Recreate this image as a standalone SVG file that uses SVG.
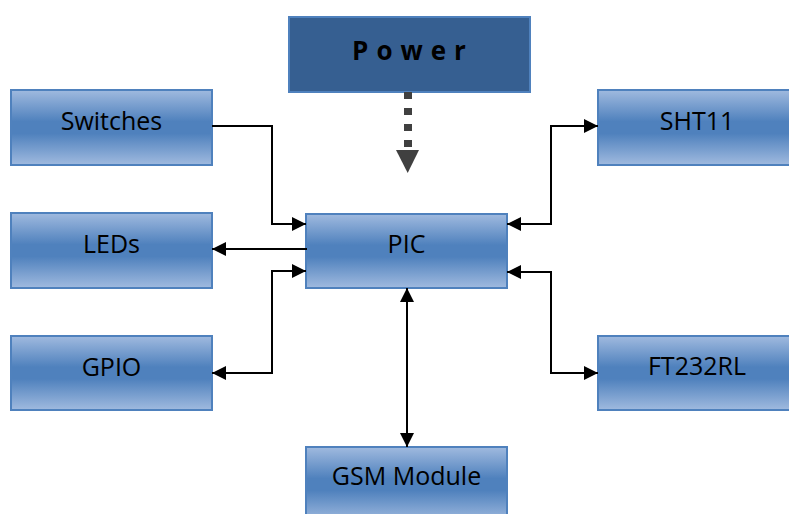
<svg xmlns="http://www.w3.org/2000/svg" width="789" height="514" viewBox="0 0 789 514">
<defs>
<linearGradient id="g" x1="0" y1="0" x2="0" y2="1">
<stop offset="0" stop-color="#a0badf"/>
<stop offset="0.42" stop-color="#4f81bd"/>
<stop offset="0.58" stop-color="#4f81bd"/>
<stop offset="1" stop-color="#a0badf"/>
</linearGradient>
<marker id="ah" viewBox="0 0 14 14" refX="14" refY="7" markerWidth="14" markerHeight="14" markerUnits="userSpaceOnUse" orient="auto-start-reverse">
<path d="M0,0 L14,7 L0,14 z" fill="#000"/>
</marker>
</defs>
<style>
.box{fill:url(#g);stroke:#4f81bd;stroke-width:2}
.lbl{font-family:"Open Sans","Liberation Sans",sans-serif;font-size:25px;fill:#000;text-anchor:middle}
.c{fill:none;stroke:#000;stroke-width:2}
</style>
<rect width="789" height="514" fill="#fff"/>
<g id="power">
<rect x="289" y="17" width="241" height="75" fill="#365f91" stroke="#4f81bd" stroke-width="2"/>
<text x="413" y="59.5" font-family="'Open Sans','Liberation Sans',sans-serif" font-size="26" font-weight="bold" letter-spacing="8" text-anchor="middle" fill="#000">Power</text>
</g>
<g id="switches"><rect class="box" x="11" y="90" width="201" height="75"/><text class="lbl" x="111.5" y="130">Switches</text></g>
<g id="leds"><rect class="box" x="11" y="213" width="201" height="75"/><text class="lbl" x="111.5" y="253">LEDs</text></g>
<g id="gpio"><rect class="box" x="11" y="336" width="201" height="74"/><text class="lbl" x="111.5" y="376">GPIO</text></g>
<g id="pic"><rect class="box" x="306" y="214" width="201" height="74"/><text class="lbl" x="406.5" y="253">PIC</text></g>
<g id="sht11"><rect class="box" x="598" y="90" width="200" height="75"/><text class="lbl" x="697" y="130">SHT11</text></g>
<g id="ft232rl"><rect class="box" x="598" y="336" width="200" height="74"/><text class="lbl" x="697" y="375">FT232RL</text></g>
<g id="gsm"><rect class="box" x="306" y="447" width="201" height="75"/><text class="lbl" x="406.5" y="485">GSM Module</text></g>
<g id="connectors">
<line x1="408" y1="92" x2="408" y2="147" stroke="#404040" stroke-width="8" stroke-dasharray="7 9"/>
<polygon points="396,150 419,150 407.7,173" fill="#404040"/>
<polyline class="c" points="212,126 272,126 272,224 306,224" marker-end="url(#ah)"/>
<line class="c" x1="307" y1="249" x2="212" y2="249" marker-end="url(#ah)"/>
<polyline class="c" points="306,271 272,271 272,373 212,373" marker-start="url(#ah)" marker-end="url(#ah)"/>
<polyline class="c" points="507,224 551,224 551,126 598,126" marker-start="url(#ah)" marker-end="url(#ah)"/>
<polyline class="c" points="507,272 551,272 551,373 598,373" marker-start="url(#ah)" marker-end="url(#ah)"/>
<line class="c" x1="407" y1="288" x2="407" y2="447" marker-start="url(#ah)" marker-end="url(#ah)"/>
</g>
</svg>
